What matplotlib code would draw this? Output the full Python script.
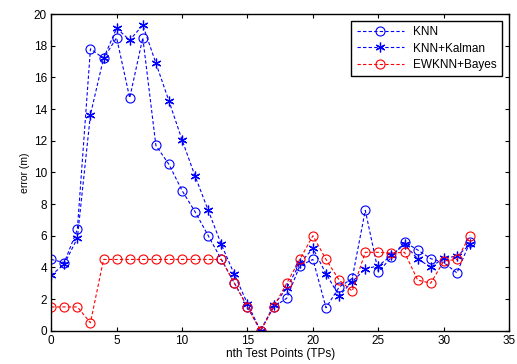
import matplotlib
matplotlib.use("Agg")
import matplotlib.pyplot as plt
import numpy as np

plt.rcParams["font.family"] = ["Liberation Sans", "DejaVu Sans"]

tps = np.arange(33)
knn = [4.5, 4.3, 6.4, 17.8, 17.2, 18.5, 14.7, 18.5, 11.7, 10.5, 8.85, 7.5,
       6.0, 4.5, 3.0, 1.5, 0.0, 1.5, 2.05, 4.1, 4.5, 1.45, 2.75, 3.3, 7.6,
       3.7, 4.65, 5.6, 5.1, 4.55, 4.3, 3.65, 5.6]
knn_kalman = [3.5, 4.2, 5.85, 13.65, 17.2, 19.1, 18.35, 19.3, 16.9, 14.5,
              12.05, 9.75, 7.6, 5.45, 3.55, 1.7, 0.0, 1.6, 2.7, 4.25, 5.2,
              3.6, 2.2, 3.1, 3.9, 4.1, 4.75, 5.45, 4.55, 4.0, 4.6, 4.7, 5.45]
ewknn_bayes = [1.5, 1.5, 1.5, 0.5, 4.5, 4.5, 4.5, 4.5, 4.5, 4.5, 4.5, 4.5,
               4.5, 4.5, 3.0, 1.5, 0.0, 1.5, 3.0, 4.5, 6.0, 4.5, 3.2, 2.5,
               4.95, 4.95, 4.9, 4.95, 3.2, 3.0, 4.4, 4.5, 6.0]

BLUE, RED = "#0000ff", "#ff0000"
ls = (0, (3, 2))
ASTERISK = (6, 2, 0)  # matlab-style '*'

fig = plt.figure(figsize=(5.17, 3.64), dpi=100)
ax = fig.add_axes([0.099, 0.0915, 0.886, 0.87])

ax.plot(tps, knn, color=BLUE, ls=ls, lw=0.8, marker="o", ms=6.5,
        mfc="none", mec=BLUE, mew=0.8, label="KNN")
ax.plot(tps, knn_kalman, color=BLUE, ls=ls, lw=0.8, marker=ASTERISK, ms=7,
        mec=BLUE, mew=0.9, label="KNN+Kalman")
ax.plot(tps, ewknn_bayes, color=RED, ls=ls, lw=0.8, marker="o", ms=6.5,
        mfc="none", mec=RED, mew=0.8, label="EWKNN+Bayes")

ax.set_xlim(0, 35)
ax.set_ylim(0, 20)
ax.set_xticks(range(0, 36, 5))
ax.set_yticks(range(0, 21, 2))
ax.tick_params(direction="in", top=True, right=True, labelsize=8.5,
               length=3, width=0.8, pad=3)
for sp in ax.spines.values():
    sp.set_linewidth(1.0)
ax.set_xlabel("nth Test Points (TPs)", fontsize=8.5, labelpad=1)
ax.set_ylabel("error (m)", fontsize=7.5, labelpad=3)

leg = ax.legend(loc="upper right", fontsize=8.5, fancybox=False,
                edgecolor="black", framealpha=1, handlelength=4,
                borderpad=0.45, labelspacing=0.35, borderaxespad=0.6)
leg.get_frame().set_linewidth(1.0)

fig.savefig("out.png", dpi=100)
